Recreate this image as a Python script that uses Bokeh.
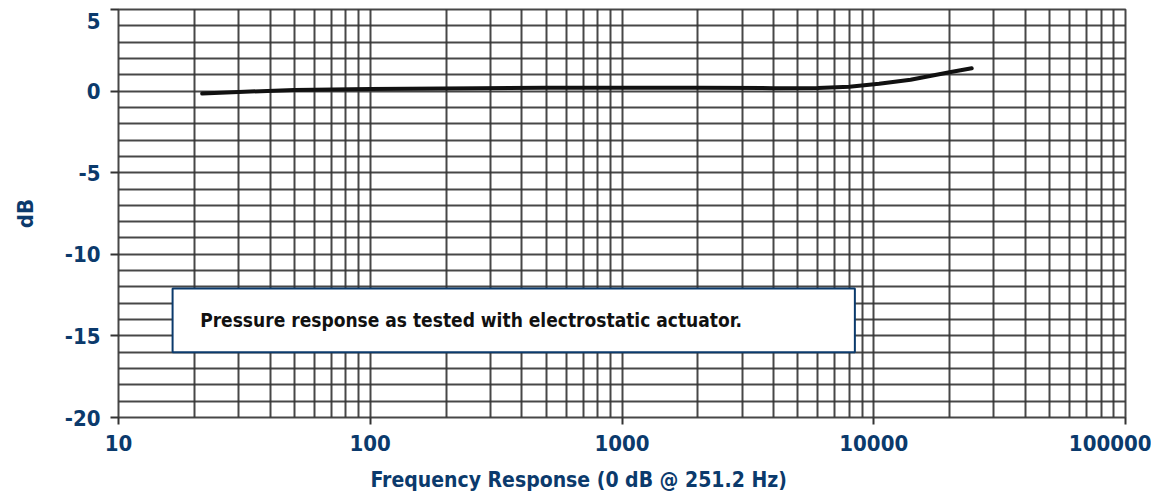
import math
from bokeh.plotting import figure
from bokeh.models import (FixedTicker, Label, BoxAnnotation, Range1d,
                          BasicTickFormatter, LinearAxis, Title)
from bokeh.embed import file_html
from bokeh.resources import INLINE

# ---- data ----
freq_hz = [21.5, 30, 50, 100, 270, 500, 1000, 2000, 4000, 6000, 8000, 10500, 14000, 20000, 24500]
response_db = [-0.15, -0.05, 0.07, 0.13, 0.18, 0.2, 0.2, 0.2, 0.18, 0.19, 0.27, 0.45, 0.7, 1.15, 1.4]

x_major_ticks = [10, 100, 1000, 10000, 100000]
y_major_ticks = [-20, -15, -10, -5, 0, 5]
y_grid_ticks = list(range(-20, 6))
x_grid_ticks = [d * m for d in [10, 100, 1000, 10000] for m in range(1, 10)] + [100000]

x_title = "Frequency Response (0 dB @ 251.2 Hz)"
y_title = "dB"
note_text = "Pressure response as tested with electrostatic actuator."

NAVY = "#0b3a6c"
GRID = "#333333"
FONT = "DejaVu Sans Condensed, Roboto"
PX_PER_DB = 408 / 25.0

p = figure(width=1151, height=503, x_axis_type="log",
           x_range=Range1d(10, 100000), y_range=Range1d(-20, 5),
           output_backend="svg", toolbar_location=None,
           min_border_left=118, min_border_right=26,
           min_border_top=9, min_border_bottom=86)
p.outline_line_color = GRID
p.outline_line_width = 2
p.outline_line_alpha = 0.9
p.background_fill_color = "white"

# grid
p.xgrid.ticker = FixedTicker(ticks=x_grid_ticks)
p.ygrid.ticker = FixedTicker(ticks=y_grid_ticks)
for g in (p.xgrid, p.ygrid):
    g.grid_line_color = GRID
    g.grid_line_width = 2
    g.grid_line_alpha = 0.9

# x axis
p.xaxis.ticker = FixedTicker(ticks=x_major_ticks)
p.xaxis.formatter = BasicTickFormatter(use_scientific=False)
p.xaxis.major_tick_out = 7
p.xaxis.major_label_standoff = 10

# inner y axis: tick marks only
p.yaxis.ticker = FixedTicker(ticks=y_major_ticks)
p.yaxis.major_label_overrides = {t: "" for t in y_major_ticks}
p.yaxis.major_tick_out = 8
p.yaxis.major_label_standoff = 0

for ax in (p.xaxis, p.yaxis):
    ax.axis_line_color = None
    ax.minor_tick_line_color = None
    ax.major_tick_line_color = GRID
    ax.major_tick_line_width = 2
    ax.major_tick_in = 0
    ax.major_label_text_color = NAVY
    ax.major_label_text_font = FONT
    ax.major_label_text_font_style = "bold"
    ax.major_label_text_font_size = "22px"

# outer y axis: the tick labels (top "5" nudged down so it stays on the page)
top_label_pos = y_major_ticks[-1] - 11 / PX_PER_DB
label_ticks = y_major_ticks[:-1] + [top_label_pos]
label_texts = {t: str(t) for t in y_major_ticks[:-1]}
label_texts[top_label_pos] = str(y_major_ticks[-1])
label_axis = LinearAxis(ticker=FixedTicker(ticks=label_ticks),
                        major_label_overrides=label_texts,
                        axis_line_color=None, major_tick_line_color=None,
                        minor_tick_line_color=None, major_tick_in=0, major_tick_out=0,
                        major_label_standoff=10,
                        major_label_text_color=NAVY, major_label_text_font=FONT,
                        major_label_text_font_style="bold",
                        major_label_text_font_size="22px",
                        axis_label=y_title, axis_label_text_color=NAVY,
                        axis_label_text_font=FONT, axis_label_text_font_style="bold",
                        axis_label_text_font_size="22px", axis_label_standoff=24)
p.add_layout(label_axis, "left")

# curve
p.line(freq_hz, response_db, line_color="#111111", line_width=4, line_cap="round")

# annotation box
box = BoxAnnotation(left=16.4, right=8414, top=-12.09, bottom=-16.0,
                    fill_color="white", fill_alpha=1.0,
                    line_color=NAVY, line_width=2, line_alpha=1.0)
p.add_layout(box)
p.add_layout(Label(x=21.1, y=-14.05, text=note_text, text_color="#111111",
                   text_font=FONT, text_font_style="bold",
                   text_font_size="19px", text_baseline="middle", text_align="left"))

# x axis title
p.add_layout(Title(text=x_title, align="left", offset=252, standoff=24, text_color=NAVY,
                   text_font=FONT, text_font_style="bold",
                   text_font_size="21px"), "below")

open("out.html", "w").write(file_html(p, INLINE))
